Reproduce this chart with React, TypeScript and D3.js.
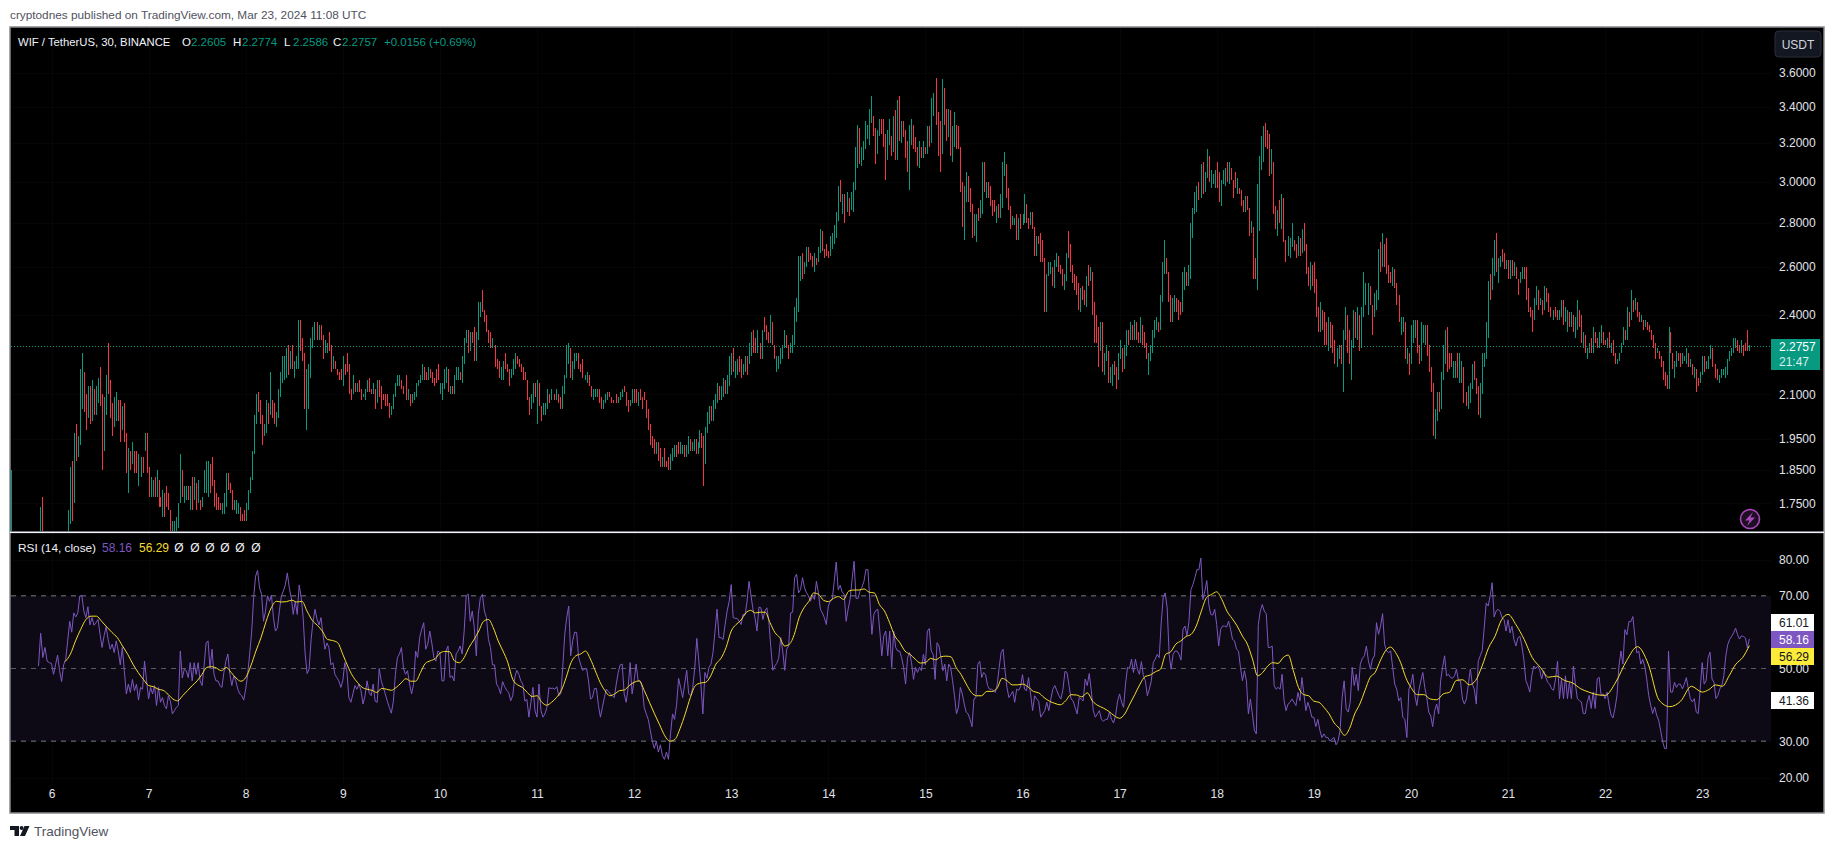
import { useEffect, useRef } from 'react';
import * as d3 from 'd3';

// Each bar is a pair: low then high for a rising bar, high then low for a falling one.
const bars05 = [1.60,1.85, 1.62,1.58, 1.58,1.62, 1.63,1.58, 1.60,1.64, 1.64,1.59, 1.58,1.62, 1.62,1.57, 1.57,1.61, 1.58,1.63, 1.63,1.59, 1.59,1.64, 1.60,1.65, 1.65,1.60, 1.60,1.65, 1.60,1.74, 1.77,1.62, 1.63,1.58, 1.58,1.62, 1.62,1.56, 1.56,1.60];
const bars06 = [1.58,1.62, 1.62,1.57, 1.57,1.60, 1.58,1.63, 1.63,1.59, 1.59,1.63, 1.61,1.65, 1.62,1.66, 1.65,1.73, 1.69,1.86, 1.88,1.70, 1.75,1.97, 2.00,1.88, 1.89,1.96, 1.93,2.19, 2.05,2.25, 2.18,2.04, 2.10,1.98, 2.02,2.13, 2.13,2.00, 2.01,2.15, 2.12,2.03, 2.03,2.13, 2.07,2.16, 2.20,2.06, 2.10,1.85, 1.91,2.09, 2.03,2.17, 2.29,2.10, 2.15,2.02, 2.07,1.96, 1.99,2.09, 2.01,2.11, 2.08,2.01, 2.08,1.94, 1.98,2.06, 2.07,1.94, 1.97,1.84, 1.78,1.92, 1.91,1.85, 1.87,1.94, 1.91,1.84, 1.91,1.84, 1.80,1.90, 1.83,1.89, 1.89,1.84, 1.91,1.97, 1.97,1.84];
const bars07 = [1.86,1.77, 1.77,1.83, 1.77,1.82, 1.83,1.77, 1.77,1.85, 1.82,1.74, 1.77,1.74, 1.71,1.79, 1.78,1.71, 1.80,1.74, 1.78,1.73, 1.73,1.66, 1.64,1.70, 1.64,1.70, 1.65,1.71, 1.68,1.75, 1.75,1.90, 1.85,1.77, 1.75,1.80, 1.76,1.80, 1.80,1.76, 1.73,1.80, 1.83,1.73, 1.76,1.83, 1.81,1.73, 1.75,1.82, 1.76,1.73, 1.74,1.77, 1.78,1.85, 1.78,1.88, 1.77,1.88, 1.87,1.78, 1.89,1.80, 1.82,1.74, 1.78,1.73, 1.77,1.73, 1.75,1.73, 1.72,1.75, 1.72,1.78, 1.74,1.84, 1.84,1.79, 1.81,1.78, 1.79,1.73, 1.73,1.76, 1.72,1.76, 1.72,1.75, 1.74,1.70, 1.72,1.70, 1.73,1.70];
const bars08 = [1.70,1.75, 1.73,1.79, 1.78,1.83, 1.82,1.91, 1.90,2.03, 2.00,2.10, 2.11,2.04, 2.08,2.00, 2.03,1.93, 1.96,2.00, 1.97,2.08, 2.07,2.00, 2.03,2.18, 2.08,2.02, 2.07,2.00, 1.99,2.04, 2.02,2.12, 2.09,2.18, 2.14,2.24, 2.15,2.24, 2.16,2.27, 2.28,2.17, 2.19,2.26, 2.28,2.19, 2.16,2.22, 2.19,2.24, 2.19,2.38, 2.38,2.26, 2.31,2.22, 2.25,2.05, 1.98,2.19, 2.05,2.21, 2.16,2.31, 2.27,2.35, 2.30,2.37, 2.37,2.30, 2.30,2.36, 2.36,2.30, 2.32,2.23, 2.25,2.30, 2.25,2.29, 2.33,2.26, 2.28,2.18, 2.19,2.24, 2.22,2.19, 2.19,2.17, 2.18,2.15, 2.19,2.15];
const bars09 = [2.13,2.24, 2.21,2.17, 2.25,2.18, 2.21,2.10, 2.12,2.08, 2.10,2.17, 2.14,2.11, 2.11,2.14, 2.15,2.11, 2.12,2.08, 2.09,2.10, 2.08,2.12, 2.11,2.15, 2.16,2.11, 2.12,2.10, 2.10,2.14, 2.12,2.05, 2.07,2.15, 2.15,2.09, 2.13,2.05, 2.10,2.08, 2.10,2.06, 2.10,2.06, 2.07,2.02, 2.03,2.06, 2.05,2.10, 2.09,2.14, 2.13,2.17, 2.13,2.17, 2.15,2.12, 2.13,2.10, 2.17,2.08, 2.08,2.12, 2.10,2.06, 2.07,2.10, 2.08,2.11, 2.09,2.14, 2.13,2.15, 2.14,2.17, 2.15,2.21, 2.20,2.15, 2.18,2.15, 2.15,2.20, 2.19,2.16, 2.18,2.14, 2.16,2.13, 2.19,2.14, 2.21,2.15];
const bars10 = [2.10,2.14, 2.08,2.14, 2.12,2.19, 2.14,2.20, 2.19,2.11, 2.10,2.13, 2.13,2.10, 2.10,2.17, 2.15,2.20, 2.15,2.20, 2.18,2.15, 2.14,2.24, 2.21,2.31, 2.29,2.34, 2.34,2.25, 2.26,2.33, 2.33,2.29, 2.35,2.22, 2.22,2.33, 2.30,2.45, 2.39,2.45, 2.50,2.41, 2.42,2.37, 2.40,2.33, 2.34,2.29, 2.33,2.27, 2.27,2.31, 2.28,2.20, 2.23,2.19, 2.22,2.16, 2.15,2.20, 2.15,2.22, 2.25,2.19, 2.21,2.18, 2.19,2.13, 2.16,2.19, 2.17,2.23, 2.19,2.25, 2.24,2.21, 2.23,2.20, 2.21,2.18, 2.20,2.15, 2.18,2.15, 2.15,2.08, 2.09,2.03, 2.05,2.10, 2.07,2.14, 2.14,2.09];
const bars11 = [2.00,2.15, 2.14,2.06, 2.06,2.01, 2.03,2.07, 2.03,2.07, 2.05,2.12, 2.10,2.07, 2.08,2.12, 2.10,2.08, 2.08,2.12, 2.10,2.07, 2.09,2.05, 2.05,2.13, 2.10,2.17, 2.16,2.28, 2.21,2.29, 2.27,2.16, 2.15,2.22, 2.19,2.25, 2.22,2.25, 2.25,2.19, 2.21,2.18, 2.23,2.16, 2.15,2.17, 2.14,2.18, 2.17,2.13, 2.13,2.09, 2.08,2.12, 2.09,2.12, 2.09,2.12, 2.12,2.07, 2.09,2.05, 2.05,2.08, 2.07,2.10, 2.08,2.11, 2.11,2.09, 2.09,2.07, 2.08,2.07, 2.10,2.07, 2.07,2.09, 2.08,2.11, 2.09,2.12, 2.13,2.11, 2.11,2.06, 2.08,2.04, 2.06,2.08, 2.07,2.12];
const bars12 = [2.12,2.07, 2.12,2.07, 2.06,2.11, 2.12,2.08, 2.09,2.05, 2.11,2.08, 2.08,2.02, 2.05,1.98, 2.00,1.93, 1.96,1.92, 1.95,1.90, 1.90,1.94, 1.94,1.88, 1.92,1.86, 1.86,1.89, 1.92,1.86, 1.88,1.86, 1.89,1.85, 1.85,1.90, 1.88,1.92, 1.89,1.93, 1.93,1.89, 1.94,1.90, 1.90,1.94, 1.90,1.93, 1.93,1.89, 1.89,1.93, 1.90,1.96, 1.95,1.91, 1.91,1.94, 1.91,1.95, 1.95,1.90, 1.90,1.94, 1.92,1.98, 1.97,1.92, 1.96,1.80, 1.87,1.99, 1.97,2.04, 2.00,2.06, 2.06,2.01, 2.01,2.08, 2.05,2.10, 2.07,2.14, 2.13,2.08, 2.08,2.13, 2.09,2.16, 2.15,2.10, 2.10,2.17, 2.13,2.24];
const bars13 = [2.17,2.25, 2.27,2.18, 2.16,2.22, 2.17,2.23, 2.24,2.18, 2.23,2.16, 2.17,2.21, 2.18,2.24, 2.24,2.17, 2.21,2.29, 2.24,2.33, 2.34,2.25, 2.31,2.25, 2.25,2.34, 2.29,2.23, 2.23,2.34, 2.39,2.33, 2.36,2.30, 2.33,2.29, 2.29,2.40, 2.37,2.28, 2.28,2.23, 2.18,2.24, 2.19,2.24, 2.21,2.27, 2.23,2.28, 2.27,2.34, 2.32,2.27, 2.28,2.23, 2.25,2.29, 2.25,2.32, 2.28,2.43, 2.37,2.47, 2.41,2.65, 2.54,2.65, 2.66,2.55, 2.57,2.62, 2.60,2.69, 2.69,2.62, 2.66,2.63, 2.65,2.60, 2.58,2.66, 2.64,2.61, 2.62,2.69, 2.66,2.77, 2.76,2.67, 2.68,2.64, 2.70,2.65];
const bars14 = [2.67,2.64, 2.65,2.74, 2.68,2.75, 2.70,2.79, 2.73,2.85, 2.81,2.98, 3.01,2.90, 2.84,2.94, 2.94,2.80, 2.85,2.95, 2.92,2.83, 2.86,2.95, 2.85,3.00, 2.96,3.18, 3.07,3.30, 3.28,3.09, 3.08,3.18, 3.11,3.21, 3.17,3.32, 3.22,3.30, 3.19,3.39, 3.31,3.46, 3.35,3.24, 3.28,3.09, 3.14,3.27, 3.24,3.33, 3.33,3.25, 3.33,3.18, 3.25,3.01, 3.11,3.27, 3.19,3.33, 3.24,3.13, 3.15,3.35, 3.38,3.11, 3.11,3.44, 3.46,3.21, 3.20,3.32, 3.32,3.23, 3.27,3.12, 3.21,3.05, 2.96,3.30, 3.19,3.33, 3.30,3.17, 3.23,3.15, 3.18,3.08, 3.07,3.21, 3.18,3.12, 3.12,3.21];
const bars15 = [3.18,3.14, 3.14,3.29, 3.29,3.18, 3.20,3.45, 3.35,3.48, 3.57,3.30, 3.37,3.13, 3.32,3.05, 3.14,3.56, 3.51,3.30, 3.39,3.21, 3.23,3.39, 3.38,3.13, 3.10,3.29, 3.18,3.37, 3.30,3.17, 3.29,3.17, 3.18,2.95, 3.00,2.78, 2.72,2.98, 2.90,3.05, 3.03,2.90, 2.97,2.85, 2.89,2.73, 2.74,2.84, 2.71,2.84, 2.87,2.81, 2.82,2.91, 2.84,3.10, 3.10,2.95, 2.92,3.00, 3.00,2.92, 2.98,2.88, 2.91,2.83, 2.91,2.85, 2.80,2.88, 2.89,2.82, 2.82,2.94, 2.87,3.10, 3.03,3.15, 3.09,2.92, 2.97,2.86, 2.88,2.77, 2.79,2.83, 2.79,2.82, 2.84,2.72, 2.72,2.82, 2.84,2.77];
const bars16 = [2.79,2.84, 2.80,2.94, 2.89,2.80, 2.82,2.77, 2.79,2.85, 2.85,2.77, 2.78,2.65, 2.65,2.74, 2.74,2.70, 2.75,2.62, 2.72,2.62, 2.64,2.41, 2.41,2.57, 2.56,2.62, 2.57,2.62, 2.60,2.52, 2.51,2.63, 2.60,2.66, 2.65,2.58, 2.61,2.57, 2.59,2.52, 2.50,2.57, 2.54,2.66, 2.76,2.64, 2.70,2.58, 2.61,2.53, 2.57,2.50, 2.56,2.48, 2.53,2.42, 2.41,2.51, 2.52,2.46, 2.50,2.44, 2.43,2.56, 2.61,2.52, 2.54,2.60, 2.58,2.40, 2.45,2.29, 2.40,2.29, 2.35,2.20, 2.26,2.37, 2.37,2.18, 2.17,2.25, 2.22,2.28, 2.26,2.14, 2.14,2.20, 2.13,2.21, 2.22,2.17, 2.20,2.12, 2.15,2.25];
const bars17 = [2.23,2.30, 2.27,2.18, 2.19,2.28, 2.24,2.34, 2.34,2.28, 2.30,2.37, 2.36,2.30, 2.30,2.38, 2.37,2.30, 2.33,2.29, 2.29,2.39, 2.36,2.28, 2.33,2.27, 2.29,2.23, 2.17,2.25, 2.22,2.28, 2.25,2.34, 2.31,2.38, 2.34,2.39, 2.37,2.33, 2.34,2.48, 2.45,2.62, 2.57,2.72, 2.64,2.57, 2.58,2.45, 2.48,2.37, 2.37,2.47, 2.41,2.48, 2.47,2.41, 2.46,2.38, 2.45,2.40, 2.41,2.58, 2.50,2.60, 2.58,2.52, 2.52,2.61, 2.55,2.80, 2.73,2.87, 2.84,2.95, 2.85,2.98, 3.00,2.91, 2.92,3.09, 3.10,2.94, 2.95,3.05, 3.02,3.17, 3.13,3.00, 2.97,3.06, 2.99,3.04, 2.97,3.06];
const bars18 = [3.10,2.97, 3.05,2.90, 2.88,3.01, 2.99,3.06, 2.98,3.07, 3.10,3.00, 2.99,3.10, 3.07,3.01, 3.01,2.92, 3.05,2.97, 2.94,3.02, 2.97,2.94, 2.96,2.88, 2.91,2.85, 2.85,2.93, 2.93,2.86, 2.87,2.74, 2.75,2.81, 2.78,2.55, 2.64,2.55, 2.50,2.99, 2.76,3.13, 3.06,3.24, 3.10,3.29, 3.31,3.18, 3.27,3.17, 3.25,3.03, 3.04,3.17, 3.10,2.84, 2.88,2.77, 2.74,2.86, 2.91,2.80, 2.77,2.94, 2.92,2.71, 2.72,2.62, 2.65,2.74, 2.64,2.73, 2.69,2.80, 2.72,2.67, 2.70,2.64, 2.65,2.74, 2.73,2.65, 2.66,2.77, 2.80,2.67, 2.70,2.57, 2.60,2.52, 2.50,2.62, 2.61,2.52];
const bars19 = [2.62,2.49, 2.55,2.39, 2.43,2.33, 2.33,2.45, 2.42,2.34, 2.41,2.28, 2.37,2.28, 2.26,2.39, 2.37,2.27, 2.36,2.25, 2.30,2.21, 2.20,2.27, 2.23,2.28, 2.28,2.21, 2.11,2.34, 2.30,2.43, 2.40,2.25, 2.34,2.21, 2.15,2.30, 2.27,2.42, 2.41,2.31, 2.30,2.43, 2.40,2.26, 2.27,2.43, 2.39,2.58, 2.44,2.53, 2.40,2.53, 2.52,2.44, 2.44,2.32, 2.39,2.49, 2.42,2.50, 2.46,2.68, 2.71,2.58, 2.60,2.75, 2.70,2.60, 2.73,2.57, 2.61,2.53, 2.58,2.53, 2.52,2.60, 2.59,2.51, 2.53,2.44, 2.48,2.37, 2.32,2.39, 2.33,2.39, 2.37,2.23, 2.21,2.27, 2.25,2.17];
const bars20 = [2.21,2.36, 2.29,2.38, 2.31,2.38, 2.38,2.25, 2.28,2.21, 2.22,2.37, 2.29,2.36, 2.28,2.36, 2.36,2.24, 2.28,2.18, 2.20,2.11, 2.14,1.96, 1.95,2.05, 2.01,2.11, 2.11,2.04, 2.05,2.18, 2.15,2.28, 2.21,2.34, 2.35,2.18, 2.25,2.19, 2.25,2.20, 2.16,2.22, 2.16,2.22, 2.25,2.16, 2.14,2.25, 2.14,2.22, 2.20,2.07, 2.11,2.06, 2.05,2.13, 2.07,2.14, 2.12,2.21, 2.22,2.15, 2.16,2.10, 2.13,2.03, 2.02,2.14, 2.10,2.25, 2.20,2.25, 2.23,2.37, 2.31,2.54, 2.57,2.46, 2.50,2.64, 2.56,2.72, 2.75,2.58, 2.53,2.64, 2.60,2.65, 2.68,2.62, 2.66,2.59, 2.59,2.63];
const bars21 = [2.63,2.55, 2.55,2.63, 2.63,2.56, 2.56,2.62, 2.60,2.55, 2.55,2.48, 2.53,2.58, 2.55,2.60, 2.60,2.55, 2.60,2.46, 2.51,2.41, 2.43,2.39, 2.42,2.33, 2.38,2.47, 2.44,2.52, 2.50,2.42, 2.44,2.47, 2.46,2.40, 2.42,2.52, 2.51,2.45, 2.49,2.41, 2.43,2.39, 2.38,2.42, 2.43,2.39, 2.42,2.38, 2.38,2.42, 2.39,2.46, 2.46,2.36, 2.37,2.43, 2.33,2.42, 2.41,2.35, 2.35,2.41, 2.40,2.33, 2.31,2.39, 2.34,2.46, 2.42,2.35, 2.40,2.29, 2.27,2.33, 2.32,2.25, 2.23,2.27, 2.25,2.29, 2.31,2.25, 2.25,2.35, 2.33,2.29, 2.31,2.27, 2.27,2.33, 2.29,2.36, 2.33,2.28];
const bars22 = [2.30,2.28, 2.27,2.31, 2.33,2.27, 2.25,2.29, 2.30,2.24, 2.25,2.21, 2.21,2.23, 2.22,2.25, 2.25,2.29, 2.28,2.35, 2.34,2.30, 2.30,2.43, 2.41,2.35, 2.38,2.50, 2.46,2.41, 2.42,2.47, 2.45,2.39, 2.41,2.37, 2.37,2.40, 2.38,2.34, 2.35,2.38, 2.37,2.34, 2.36,2.33, 2.34,2.30, 2.32,2.27, 2.29,2.23, 2.25,2.27, 2.26,2.23, 2.24,2.20, 2.22,2.15, 2.18,2.13, 2.17,2.12, 2.12,2.35, 2.33,2.25, 2.25,2.19, 2.16,2.22, 2.20,2.26, 2.25,2.22, 2.25,2.20, 2.21,2.25, 2.22,2.24, 2.21,2.27, 2.25,2.20, 2.20,2.23, 2.21,2.17, 2.16,2.20, 2.19,2.11, 2.16,2.13, 2.14,2.18];
const bars23 = [2.17,2.24, 2.24,2.18, 2.19,2.22, 2.19,2.24, 2.23,2.28, 2.27,2.20, 2.21,2.16, 2.19,2.15, 2.14,2.17, 2.16,2.19, 2.17,2.19, 2.16,2.20, 2.17,2.23, 2.22,2.26, 2.24,2.27, 2.25,2.31, 2.27,2.31, 2.30,2.26, 2.28,2.25, 2.25,2.30, 2.28,2.24, 2.29,2.26, 2.34,2.26, 2.26,2.28];

const rsi05 = [50.7,59.7,53,55.8,52,51.6];
const rsi06 = [51.4,48.4,51,53.7,49.4,46.4,51,52.5,57.6,63,60,65.3,64.2,65.3,70,70,65.8,64,67,62,64,61.9,62.6,63.5,59.4,55.8,59,61.5,58,55.3,56.7,54.4,57.6,54.8,51,55.8,49.4,43,45.7,43.4,47,43.9,45.7,41.3,44.8,44.3,52,46.6];
const rsi07 = [41.6,44.8,43,45.3,39.8,44.8,40.7,42,39.8,38.9,42.5,41,37.5,38.4,39.3,39.8,54.8,47.4,49.8,49.4,47.5,51.6,46.6,51.6,48.4,51.6,46.6,45.3,50.7,57,57.6,50,55.3,48.4,46.6,46.6,45.3,44.8,48.9,52,54,48.4,45.3,48,46.6,44.3,43,42.5,41.3];
const rsi08 = [44.3,48.4,54,60,69.5,75.4,77,72.2,70.4,63,65.8,70,68.5,70.2,64,60.3,61.2,65.8,70,71.3,73,76.3,72.2,69.5,64.9,68.5,64.9,73,69.5,64,54,48.6,49.8,58,63,66.3,63.5,62,64,59.4,55.3,57,55.8,51,51.6,48.4,47.5,46.6,44.8];
const rsi09 = [46.6,51.6,49.4,42,40.7,43,45.3,44.3,45.7,43.9,40.2,42.5,46.6,43.4,42.5,45.7,41,40.7,50,46.6,44.8,43,41,39.3,37.7,41,48.4,53,54,55.8,50,48.4,49.4,45.7,43,45.7,54.8,53,58.5,60.8,62.6,55.3,56.7,60.3,57,53,52,54.8];
const rsi10 = [54.4,46.6,46.6,54.8,56.2,47.5,48,46.6,54,54.8,56.2,54,60.3,70,70.5,63,65.8,61.2,53.5,64.9,69.5,70.4,65.8,64,58,55.8,51,51,45.7,44.8,43,46.4,45,44,43.4,41.1,42.5,47.5,49.5,48.4,46.6,45.7,41,41.5,36.6,40.7,44.8,38.4];
const rsi11 = [36.6,45.7,38.4,36.6,37.5,39.3,44.7,44.5,44.6,44.3,45,42.5,43,50.3,59.4,64,67.2,53.5,57.6,60,59.9,53,51.2,49.5,49.8,50,46.6,41.6,42,44.5,44.5,39.8,36.6,39.3,42,44.3,43.7,43,42.5,42,45.7,48.9,51,51.2,43,40.7,44.8,51.6,43];
const rsi12 = [46.6,51.2,46.6,46.6,44.8,39.3,37.5,36,33,30,28,30,27,29,26,25,27,25,32,37.5,36,40,47.3,44.7,42,45.7,49.5,43,42.5,44.8,50.3,58.3,52,45.7,37.5,48.9,47.3,50.3,51.2,54.4,60.3,66.3,58.5,58.5,58,62.1,65.8,68.5];
const rsi13 = [73.1,64,63.8,63.8,63,62.1,64.9,64.7,68.5,74,70,66.3,64,60.3,66.9,66.7,63.5,65.8,66.7,63,55.8,49.5,50.7,51.4,53,58.5,54.8,49.5,55.3,56.2,65.3,65.5,75,76,70.8,71.7,75,72.2,70.8,70,68.5,70,69,74,70.8,66.3,65.3,64,62.1];
const rsi14 = [67.2,68.5,69,74,79.3,71.7,72.9,71,70.5,63,66.3,69,74.5,79.5,69.3,69.3,71.3,72.4,74,77.2,77.2,68.5,59.4,64.9,66,66.3,60.3,53.5,59,60.3,53.5,60.3,50.3,60.3,55.8,54.8,54.8,53,50.3,45.7,53,54.4,51.6,47,50.3,48.9,50.3,49.4,53.9];
const rsi15 = [51,60.3,61,54.8,53.9,47,57.1,56.2,53,49.4,51.2,46.6,51.2,50.3,46.6,42.5,37.5,39.3,44.8,43,40.2,38,37.5,36,34,41.6,42,51.2,52,47.5,48.9,48.3,45.3,44.3,44.3,43.9,43.4,45.7,50.3,54.4,55.3,49.4,44.8,42,42.8,43.7,40.7,44.3,44,45];
const rsi16 = [48.3,44.3,43.9,47.5,43,38.4,42.5,41.6,41,36.6,37.5,38.4,40.7,38.4,41.6,44.3,45.3,43.9,42.5,41.6,44.3,49.2,48.9,45.3,41.6,41.1,39.3,37.5,42,41.6,41.1,47.1,45.3,48.6,43.9,38.4,36.6,37.5,38.4,36,35.5,36,36,38,36,35,37,41];
const rsi17 = [43,40.7,39.3,45.7,50.3,50,52.6,48.9,52.6,49.8,48.4,51.9,48,46.6,42.5,44.3,46.6,51.6,52.6,53.9,53,62.6,69.5,70.8,66.7,53.9,49.8,53.9,54.8,54.8,53.9,52.3,60.8,61.7,59,63,71.7,73.1,75,77.2,77.2,80.4,69,71.3,74.2,67.6,64.9,64.7,66.3];
const rsi18 = [62.1,56.2,60.8,61.7,61.7,61.4,63,60.8,58,57.6,55.3,54.8,50.3,46.6,49.4,46.6,37.5,41.6,37.5,33,32,62.1,65.8,67.6,65.8,65.1,55.8,55.8,56.2,45.3,44.3,44.8,44.3,48.4,41.1,38.4,40.2,40.7,41.6,40.7,39.8,43.4,41.1,47.5,43,38.4,40.7,39,36.6];
const rsi19 = [36.6,34,36,33,31,32,31,31,30,30.5,31,29,30,33,42,46.6,38.9,38,40.7,50.3,45.3,48.4,43.9,51.2,52.8,53.5,56.2,52.1,49.8,52.6,53.5,62.6,59.4,61.7,65.1,56.7,54.8,54.4,54.8,50.3,45.7,44.3,41.1,42,36.6,36,31,44.3];
const rsi20 = [45.7,48.4,42.5,39.8,43.9,46.6,48.9,44.8,42,38,37,34,38.4,40.2,37.5,46.6,50.3,53.5,48,48.4,47.5,47.3,48,49.8,46.6,46.6,41.6,40.2,41.6,45.7,49.8,45.7,44.3,40.2,52.1,53.5,55,61.2,68,67.2,70,73.6,64.2,65.8,66.3,65.7,64,63.5,60.3];
const rsi21 = [63.4,59.8,61.6,58,56.2,58.4,58.9,56.2,52.5,46.7,45.3,43.5,48,50.7,50,50.7,49.6,47.1,49.4,47.6,46.2,45.7,44.4,44,47.1,52,41.7,47.1,41.7,48,41.7,46.2,41.7,50.7,45.7,41.7,41.2,40.8,37.6,37.6,40.8,42.6,39,43.5,39,47.1,47.6,42.6,43];
const rsi22 = [41.7,43.5,39.9,37.2,36.4,39,42.6,50.7,54.8,51.2,60.7,59.3,62.9,62.9,64.3,58.9,54.3,54.8,51.2,52.5,50.7,47.1,42.6,39.9,37.6,39.4,37.2,35.8,33,30,28,28,54.8,43.5,43.5,46.2,44.8,45.7,45.7,44.4,45.7,47.5,44.4,41.7,40.8,41.7,38,37.6,44.4];
const rsi23 = [51.6,45.7,46.6,53,54.5,47.1,46.2,41.7,42.6,44.4,45.3,48,53.4,56.6,58,58.9,59.8,61.1,59.3,58.1,59,58.8,58.4,55.7,58.16];

const ma06 = [51.9,53.9,57.6,60.8,63.5,64.4,64.4,63,61.4,59.9,58.5,56.2,53.9,51.2,48.9,47];
const ma07 = [45.3,45,44.3,44,42.9,41.6,41.1,42.5,43.9,45.3,46.6,48.4,50.3,50.5,50.1,49.4,50.3,48.9,47.4,46.5];
const ma08 = [47.5,50.7,54.8,58.5,63,66.7,68.5,68.3,68.4,68.8,68.3,68.5,65.8,63.3,61.9,60.3,58,57.7,57.1];
const ma09 = [53.9,50.7,48,46.2,44.8,44.3,44,43.4,44.5,44.3,44,44.8,46,47.2,46.5,46.5,48.9,51.4,52.1,52.7];
const ma10 = [54.2,54.7,54.6,52.1,51.6,53,55.8,57.9,60.3,63,63.5,61.2,57.6,54.8,51.6,47,45.5,44.8,43.4,42.3];
const ma11 = [42.5,40.7,39.9,40.7,42,43.9,47.5,51.6,53.5,54,54.8,52.6,49.4,46.2,43.9,42.5,43,43.9,44.1,45.3];
const ma12 = [46.2,46.6,43.9,40.7,37.5,34.5,31.5,30,30.5,33.5,37.5,42,45.3,46,46.2,48,51.2,52.8,55.8];
const ma13 = [60.3,62.1,63.3,65.3,66,65.3,65.5,65.5,62.6,59.9,58.5,56.2,56.7,59.4,64,66.7,68.5,70.8,70.4,68.8];
const ma14 = [68.4,69.3,69.8,69,71.3,71.6,71.6,71.9,71,70.8,67.6,65.8,62.6,59,57.1,54.8,53.9,52.6,51.5];
const ma15 = [51.6,52.8,52.4,53.2,53.4,53.2,50.3,48.3,45.7,43.4,42.5,42.5,43.7,43.7,44.5,47.3,46.6,45.5,45.5];
const ma16 = [45.7,45,43.7,43.3,42,41,40.4,40,41.1,42.8,42.7,42.2,43.3,41,39.8,39.1,38.2,37];
const ma17 = [36.3,37.5,40.2,42.9,45.7,47.8,48.2,49.1,49.8,53.9,54.6,56.7,57.6,58.8,59.4,61.7,65.8,69.5,70.4];
const ma18 = [71.1,69,65.8,63.8,61.7,59,56.7,52.6,48,48.9,50.7,51.6,51.4,53,53.7,49.4,44.8,42.8,42.5];
const ma19 = [41,40.7,39.3,37.5,35,33.5,31.6,33.5,37.5,40.2,43.9,47.5,48.9,52.1,54.8,55.9,54.4,51.6,47.5];
const ma20 = [44.8,42.8,42.8,41.6,41.4,43,43.5,46.7,46.9,45.5,46.7,50.7,55.7,58.9,63.4];
const ma21 = [64.9,62,58,53,50.3,47.6,47.9,46.7,46,44.4,43.5,42.8];
const ma22 = [42.6,46.3,52.2,56,51.2,41.3,39.5,41,45.1];
const ma23 = [43.5,44.2,45.5,45.1,48,51.2,53,56.29];

const priceTicks = [3.6, 3.4, 3.2, 3.0, 2.8, 2.6, 2.4, 2.1, 1.95, 1.85, 1.75];
const rsiTicks = [80, 70, 50, 40, 30, 20];
const rsiLevels = [70, 50, 30];
const dayTicks = d3.range(6, 24);
const lastPrice = 2.2757;
const countdown = '21:47';
const rsiLabels = [
  { value: '61.01', top: 614, fill: '#ffffff', text: '#131722' },
  { value: '58.16', top: 631, fill: '#7e57c2', text: '#ffffff' },
  { value: '56.29', top: 648, fill: '#fdeb3a', text: '#131722' },
  { value: '41.36', top: 692, fill: '#ffffff', text: '#131722' }
];
const quote = [['O', '2.2605'], ['H', '2.2774'], ['L', '2.2586'], ['C', '2.2757']];

const UP = '#089981';
const DOWN = '#f23645';
const FONT = '"Liberation Sans", Arial, sans-serif';

const barDays = [bars05, bars06, bars07, bars08, bars09, bars10, bars11, bars12, bars13, bars14, bars15, bars16, bars17, bars18, bars19, bars20, bars21, bars22, bars23];
const rsiDays = [rsi05, rsi06, rsi07, rsi08, rsi09, rsi10, rsi11, rsi12, rsi13, rsi14, rsi15, rsi16, rsi17, rsi18, rsi19, rsi20, rsi21, rsi22, rsi23];
const maDays = [ma06, ma07, ma08, ma09, ma10, ma11, ma12, ma13, ma14, ma15, ma16, ma17, ma18, ma19, ma20, ma21, ma22, ma23];

// Spread one day's readings evenly over that day
const spread = (values: number[], from: number, to: number) =>
  values.map((v, i) => ({ day: from + (to - from) * i / values.length, v }));

export default function App() {
  const svgRef = useRef<SVGSVGElement>(null);

  useEffect(() => {
    if (!svgRef.current) return;
    const svg = d3.select(svgRef.current);
    svg.selectAll('*').remove();

    const left = 11, right = 1771, edge = 1824, top = 27, bottom = 813, split = 532, rsiBottom = 785;

    const x = d3.scaleLinear().domain([6, 23]).range([51.5, 1702.2]);
    const yPrice = d3.scaleLog().domain([3.6, 1.75]).range([72.7, 503.3]);
    const yRsi = d3.scaleLinear().domain([80, 20]).range([559.5, 777.5]);

    svg.append('rect').attr('width', 1835).attr('height', 849).attr('fill', '#ffffff');
    svg.append('rect').attr('x', 10).attr('y', top).attr('width', edge - 10).attr('height', bottom - top)
      .attr('fill', '#000000').attr('stroke', '#8b8b90').attr('stroke-width', 1.5);

    const defs = svg.append('defs');
    defs.append('clipPath').attr('id', 'priceClip').append('rect')
      .attr('x', left).attr('y', top).attr('width', right - left).attr('height', split - top - 1);
    defs.append('clipPath').attr('id', 'rsiClip').append('rect')
      .attr('x', left).attr('y', split + 1).attr('width', right - left).attr('height', rsiBottom - split - 1);

    // Grid
    const grid = svg.append('g').attr('stroke', 'rgba(255,255,255,0.022)').attr('stroke-width', 1);
    dayTicks.forEach(d => {
      grid.append('line').attr('x1', Math.round(x(d)) + 0.5).attr('x2', Math.round(x(d)) + 0.5).attr('y1', top).attr('y2', rsiBottom);
    });
    priceTicks.forEach(p => {
      grid.append('line').attr('x1', left).attr('x2', right).attr('y1', Math.round(yPrice(p)) + 0.5).attr('y2', Math.round(yPrice(p)) + 0.5);
    });
    [80, 20].forEach(v => {
      grid.append('line').attr('x1', left).attr('x2', right).attr('y1', Math.round(yRsi(v)) + 0.5).attr('y2', Math.round(yRsi(v)) + 0.5);
    });

    // Candles
    const candles = barDays.flatMap((pairs, k) => {
      const day = 5 + k;
      const from = k === 0 ? 5.578 : day;
      const to = k === barDays.length - 1 ? 23.507 : day + 1;
      const n = pairs.length / 2;
      return d3.range(n).map(i => ({
        day: from + (to - from) * i / n,
        start: pairs[2 * i],
        end: pairs[2 * i + 1]
      }));
    });

    svg.append('line')
      .attr('x1', left).attr('x2', right)
      .attr('y1', yPrice(lastPrice)).attr('y2', yPrice(lastPrice))
      .attr('stroke', UP).attr('stroke-width', 1).attr('stroke-dasharray', '1 2');

    svg.append('g')
      .attr('clip-path', 'url(#priceClip)')
      .attr('shape-rendering', 'crispEdges')
      .selectAll('line')
      .data(candles)
      .enter()
      .append('line')
      .attr('x1', d => Math.round(x(d.day)) + 0.5)
      .attr('x2', d => Math.round(x(d.day)) + 0.5)
      .attr('y1', d => yPrice(d.start))
      .attr('y2', d => yPrice(d.end))
      .attr('stroke', d => d.end >= d.start ? UP : DOWN)
      .attr('stroke-width', 1);

    // RSI pane
    svg.append('rect').attr('x', left).attr('width', right - left)
      .attr('y', yRsi(70)).attr('height', yRsi(30) - yRsi(70))
      .attr('fill', '#0d0a15');
    rsiLevels.forEach(level => {
      svg.append('line').attr('x1', left).attr('x2', right)
        .attr('y1', yRsi(level)).attr('y2', yRsi(level))
        .attr('stroke', '#787b86').attr('stroke-width', 1)
        .attr('stroke-opacity', level === 50 ? 0.7 : 1)
        .attr('stroke-dasharray', '5 5');
    });

    const rsiPoints = rsiDays.flatMap((values, k) => {
      const day = 5 + k;
      const from = k === 0 ? 5.866 : day;
      const to = k === rsiDays.length - 1 ? 23.506 : day + 1;
      return spread(values, from, to);
    });
    const maPoints = maDays.flatMap((values, k) => {
      const day = 6 + k;
      const from = k === 0 ? 6.14 : day;
      const to = k === maDays.length - 1 ? 23.555 : day + 1;
      return spread(values, from, to);
    });

    const rsiLine = d3.line<{ day: number; v: number }>().x(d => x(d.day)).y(d => yRsi(d.v));
    const rsiPlot = svg.append('g').attr('clip-path', 'url(#rsiClip)').attr('fill', 'none');
    rsiPlot.append('path').datum(rsiPoints).attr('d', rsiLine).attr('stroke', '#7e57c2').attr('stroke-width', 1);
    rsiPlot.append('path').datum(maPoints)
      .attr('d', rsiLine.curve(d3.curveMonotoneX))
      .attr('stroke', '#f5dc2d').attr('stroke-width', 1);

    // Divider between the panes
    svg.append('rect').attr('x', 10).attr('y', split - 0.5).attr('width', edge - 10).attr('height', 1.6).attr('fill', '#f0f3fa');

    // Axes
    const priceAxis = svg.append('g')
      .attr('transform', `translate(1779,0)`)
      .call(d3.axisRight(yPrice).tickValues(priceTicks).tickSize(0).tickPadding(0).tickFormat(d => d3.format('.4f')(d as number)));
    const rsiAxis = svg.append('g')
      .attr('transform', `translate(1779,0)`)
      .call(d3.axisRight(yRsi).tickValues(rsiTicks).tickSize(0).tickPadding(0).tickFormat(d => d3.format('.2f')(d as number)));
    const timeAxis = svg.append('g')
      .attr('transform', `translate(0,786)`)
      .call(d3.axisBottom(x).tickValues(dayTicks).tickSize(0).tickPadding(3).tickFormat(d => String(d)));
    [priceAxis, rsiAxis, timeAxis].forEach(axis => {
      axis.select('.domain').remove();
      axis.selectAll('text').attr('fill', '#e0e3eb').style('font', `12px ${FONT}`).style('font-weight', '500');
    });

    // Header and logo
    const text = (value: string, tx: number, ty: number, fill: string, size = 12, weight = 'normal', anchor = 'start') =>
      svg.append('text').text(value).attr('x', tx).attr('y', ty).attr('fill', fill)
        .attr('text-anchor', anchor).attr('dominant-baseline', 'central')
        .style('font', `${weight} ${size}px ${FONT}`);

    text('cryptodnes published on TradingView.com, Mar 23, 2024 11:08 UTC', 10, 15, '#50535e', 11.8);
    text('WIF / TetherUS, 30, BINANCE', 18, 42, '#f0f3fa', 11.3);
    const quoteX = [182, 233, 284, 333];
    quote.forEach(([k, v], i) => {
      text(k, quoteX[i], 42, '#f0f3fa', 11.5);
      text(v, quoteX[i] + 9, 42, UP, 11.5);
    });
    text('+0.0156 (+0.69%)', 384, 42, UP, 11.5);

    text('RSI (14, close)', 18, 548, '#f0f3fa', 11.8);
    text('58.16', 102, 548, '#7e57c2');
    text('56.29', 139, 548, '#f5dc2d');
    [179, 195, 210, 225, 240, 256].forEach(tx => text('Ø', tx, 548, '#f0f3fa', 12, 'normal', 'middle'));

    // USDT button
    svg.append('rect').attr('x', 1775).attr('y', 31).attr('width', 46).attr('height', 26).attr('rx', 4)
      .attr('fill', '#131722').attr('stroke', '#2a2e39');
    text('USDT', 1798, 44.5, '#d1d4dc', 12, 'normal', 'middle');

    // Last price box
    svg.append('rect').attr('x', right).attr('y', 339).attr('width', 49).attr('height', 31).attr('fill', UP);
    text(d3.format('.4f')(lastPrice), 1779, 347, '#ffffff');
    text(countdown, 1779, 362, '#d6efe9');

    rsiLabels.forEach(l => {
      svg.append('rect').attr('x', right).attr('y', l.top).attr('width', 43).attr('height', 17).attr('fill', l.fill);
      text(l.value, 1779, l.top + 8.5, l.text);
    });

    // Lightning badge
    svg.append('circle').attr('cx', 1750).attr('cy', 519).attr('r', 9.5)
      .attr('fill', '#1c0f22').attr('stroke', '#ab47bc').attr('stroke-width', 1.6);
    svg.append('path').attr('d', 'M1753 512 L1745 520.5 L1749.5 520.5 L1747 526 L1755 517.5 L1750.5 517.5 Z').attr('fill', '#ab47bc');

    // TradingView mark
    svg.append('path').attr('fill', '#131722')
      .attr('d', 'M10 826 H19 V836 H14.5 V830 H10 Z M24.5 826 H29.5 L25 836 H20 Z');
    svg.append('circle').attr('cx', 21.6).attr('cy', 828).attr('r', 2).attr('fill', '#131722');
    text('TradingView', 34, 831.5, '#50535e', 13.5);
  }, []);

  return (
    <svg ref={svgRef} width={1835} height={849}
      style={{ position: 'absolute', left: 0, top: 0, display: 'block' }} />
  );
}
